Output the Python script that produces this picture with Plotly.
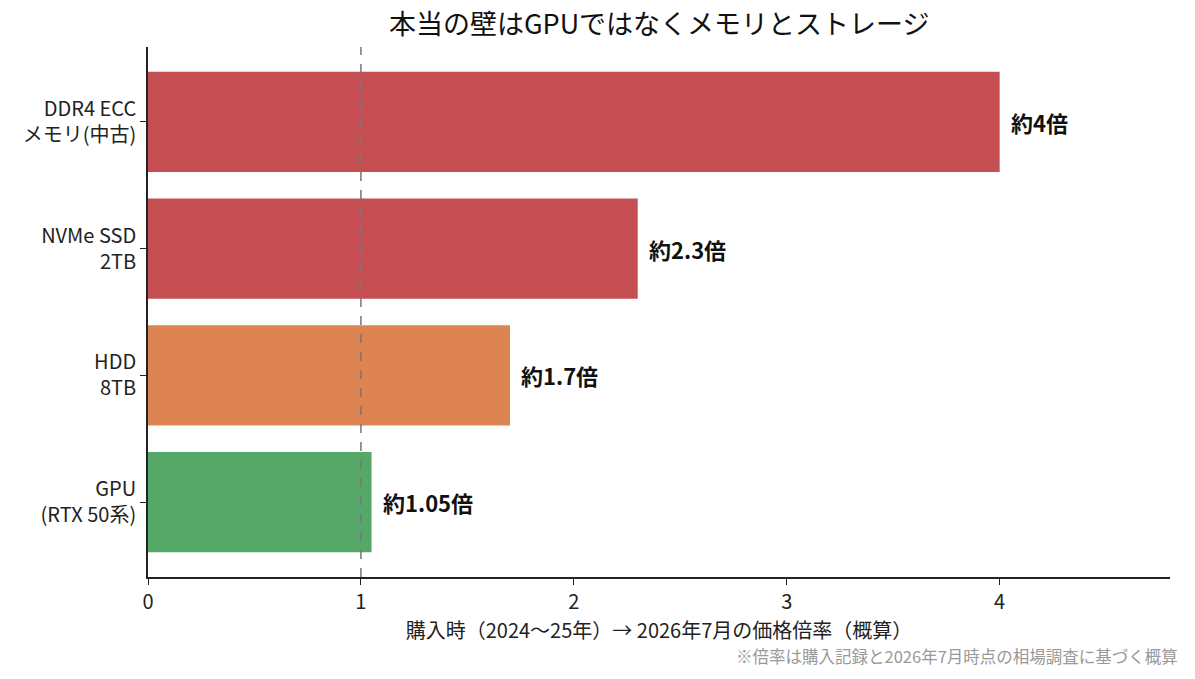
import plotly.graph_objects as go

# データ（下から上の順）
categories = ['GPU<br>(RTX 50系)', 'HDD<br>8TB', 'NVMe SSD<br>2TB', 'DDR4 ECC<br>メモリ(中古)']
ratios = [1.05, 1.7, 2.3, 4.0]
labels = ['約1.05倍', '約1.7倍', '約2.3倍', '約4倍']
colors = ['#55A868', '#DD8452', '#C44E52', '#C44E52']

FONT = 'Noto Sans CJK JP'

fig = go.Figure(go.Bar(
    x=ratios,
    y=categories,
    orientation='h',
    marker=dict(color=colors, line=dict(width=0)),
    width=0.79,
    hoverinfo='skip',
))

# 各バーの倍率ラベル
for cat, val, lab in zip(categories, ratios, labels):
    fig.add_annotation(x=val, y=cat, text='<b>' + lab + '</b>', showarrow=False,
                       xanchor='left', xshift=9, font=dict(family=FONT, size=22, color='#111'))

# 基準線（1倍）
fig.add_vline(x=1, line=dict(color='#777', width=1.5, dash='dash'))

fig.update_layout(
    width=1195, height=679,
    margin=dict(l=140, r=33, t=39, b=110),
    paper_bgcolor='white', plot_bgcolor='white',
    font=dict(family=FONT, size=20, color='#222'),
    title=dict(text='本当の壁はGPUではなくメモリとストレージ', x=0.545, xanchor='center',
               y=0.975, yanchor='middle', font=dict(family=FONT, size=27, color='#111')),
    showlegend=False,
)
fig.update_xaxes(
    range=[0, 4.8], tickvals=[0, 1, 2, 3, 4], showgrid=False, zeroline=False,
    showline=True, linecolor='#222', linewidth=1.6, ticks='outside', ticklen=6,
    tickcolor='#222', tickwidth=1.4, tickfont=dict(size=20, color='#222'),
    title=dict(text='購入時（2024〜25年）→ 2026年7月の価格倍率（概算）', standoff=4,
               font=dict(size=20, color='#222')),
)
fig.update_yaxes(
    range=[-0.59, 3.59], showgrid=False, zeroline=False,
    showline=True, linecolor='#222', linewidth=1.6, ticks='outside', ticklen=6,
    tickcolor='#222', tickwidth=1.4, tickfont=dict(size=20, color='#222'),
)

fig.add_annotation(text='※倍率は購入記録と2026年7月時点の相場調査に基づく概算',
                   xref='paper', yref='paper', x=1.0098, y=-0.149, xanchor='right', yanchor='middle',
                   showarrow=False, font=dict(family=FONT, size=16.5, color='#999'))

fig.write_html("out.html")
